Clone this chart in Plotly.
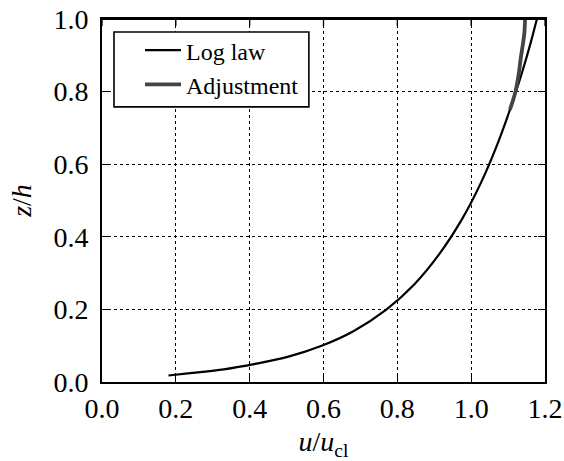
import plotly.graph_objects as go

# Log law profile (u/u_cl, z/h)
log_u = [0.180, 0.245, 0.330, 0.415, 0.505, 0.595, 0.681, 0.771, 0.847, 0.912, 0.976, 1.027, 1.069, 1.105, 1.137, 1.160, 1.178]
log_z = [0.018, 0.025, 0.035, 0.050, 0.070, 0.100, 0.140, 0.200, 0.270, 0.350, 0.450, 0.550, 0.650, 0.750, 0.850, 0.930, 1.000]

# Adjusted profile near the top
adj_u = [1.105, 1.120, 1.129, 1.134, 1.140, 1.144, 1.146]
adj_z = [0.750, 0.800, 0.850, 0.890, 0.930, 0.960, 1.000]

x_ticks = [0.0, 0.2, 0.4, 0.6, 0.8, 1.0, 1.2]
y_ticks = [0.0, 0.2, 0.4, 0.6, 0.8, 1.0]

FONT = "Liberation Serif, Times New Roman, serif"

fig = go.Figure()
fig.add_trace(go.Scatter(x=log_u, y=log_z, mode="lines", name="Log law",
                         line=dict(color="black", width=2.2, shape="spline", smoothing=1.0)))
fig.add_trace(go.Scatter(x=adj_u, y=adj_z, mode="lines", name="Adjustment",
                         line=dict(color="#444444", width=3.8, shape="spline", smoothing=1.0)))

axis_common = dict(
    showline=True, linecolor="black", linewidth=1.8, mirror="ticks",
    ticks="inside", ticklen=7, tickwidth=1.3, tickcolor="black",
    showgrid=True, gridcolor="black", gridwidth=1, griddash="dot",
    zeroline=False, automargin=False, ticklabeloverflow="allow",
    tickfont=dict(family=FONT, size=28, color="black"),
)

# legend frame (white box with black border)
fig.add_shape(type="rect", xref="paper", yref="paper",
              x0=0.0271, x1=0.467, y0=0.758, y1=0.964,
              fillcolor="white", line=dict(color="black", width=1.6), layer="above")

# top frame line and inward ticks on the top edge
fig.add_shape(type="line", xref="paper", yref="paper", x0=0, x1=1, y0=1, y1=1,
              line=dict(color="black", width=1.8), layer="above")
for t in x_ticks:
    fig.add_shape(type="line", xref="x", x0=t, x1=t, yref="paper", ysizemode="pixel",
                  yanchor=1, y0=0, y1=-7, line=dict(color="black", width=1.3), layer="above")

fig.update_layout(
    width=564, height=461,
    margin=dict(l=102, r=19, t=19, b=79),
    paper_bgcolor="white", plot_bgcolor="white",
    font=dict(family=FONT, color="black", size=24),
    xaxis=dict(range=[0, 1.2], tickvals=x_ticks, ticktext=[f"{v:.1f}" for v in x_ticks],
               title=dict(text="<i>u</i>/<i>u</i><sub>cl</sub>", font=dict(family=FONT, size=28, color="black"), standoff=10),
               ticklabelstandoff=0, **axis_common),
    yaxis=dict(range=[0, 1.0], tickvals=y_ticks, ticktext=[f"{v:.1f}" for v in y_ticks],
               title=dict(text="<i>z</i>/<i>h</i>", font=dict(family=FONT, size=28, color="black"), standoff=14),
               ticklabelstandoff=6, **axis_common),
    legend=dict(x=0.0858, y=0.975, xanchor="left", yanchor="top",
                bgcolor="rgba(0,0,0,0)", borderwidth=0, itemwidth=36,
                font=dict(family=FONT, size=24, color="black")),
)

fig.write_html("out.html", config={"displayModeBar": False},
               post_script="document.body.style.margin='0';document.body.style.padding='0';")
